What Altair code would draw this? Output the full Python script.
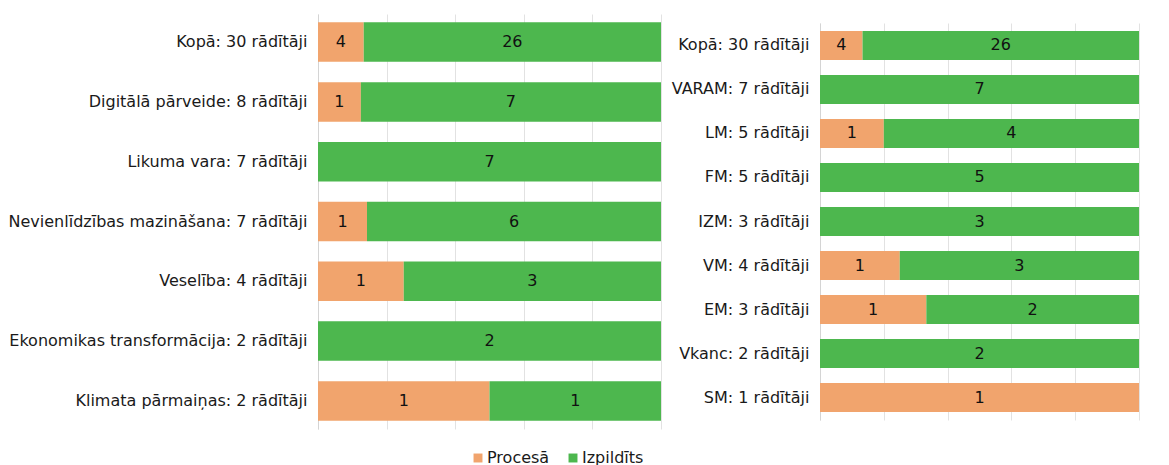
import altair as alt
import pandas as pd

left_cats = ["Kopā: 30 rādītāji", "Digitālā pārveide: 8 rādītāji", "Likuma vara: 7 rādītāji",
             "Nevienlīdzības mazināšana: 7 rādītāji", "Veselība: 4 rādītāji",
             "Ekonomikas transformācija: 2 rādītāji", "Klimata pārmaiņas: 2 rādītāji"]
left_proc = [4, 1, 0, 1, 1, 0, 1]
left_izp = [26, 7, 7, 6, 3, 2, 1]

right_cats = ["Kopā: 30 rādītāji", "VARAM: 7 rādītāji", "LM: 5 rādītāji", "FM: 5 rādītāji",
              "IZM: 3 rādītāji", "VM: 4 rādītāji", "EM: 3 rādītāji", "Vkanc: 2 rādītāji",
              "SM: 1 rādītāji"]
right_proc = [4, 0, 1, 0, 0, 1, 1, 0, 1]
right_izp = [26, 7, 4, 5, 3, 3, 2, 2, 0]

statuses = ["Procesā", "Izpildīts"]
colors = ["#F1A46D", "#4DB74E"]
FONT = "DejaVu Sans"


def table(cats, proc, izp):
    rows = []
    for c, p, z in zip(cats, proc, izp):
        rows.append({"cat": c, "status": statuses[0], "value": p, "order": 0})
        rows.append({"cat": c, "status": statuses[1], "value": z, "order": 1})
    return pd.DataFrame(rows)


def panel(cats, proc, izp, width, height, pi, po, legend):
    df = table(cats, proc, izp)
    base = alt.Chart(df)
    y = alt.Y("cat:N", sort=cats,
              scale=alt.Scale(paddingInner=pi, paddingOuter=po),
              axis=alt.Axis(title=None, labelFont=FONT, labelFontSize=16, labelColor="#1a1a1a",
                            ticks=False, domainColor="#d4d4d4", labelPadding=11, labelLimit=500))
    bars = base.mark_bar().encode(
        y=y,
        x=alt.X("value:Q", stack="normalize", scale=alt.Scale(domain=[0, 1], nice=False),
                axis=alt.Axis(title=None, labels=False, ticks=False, domain=False, grid=True,
                              gridColor="#e2e2e2", values=[0, 0.2, 0.4, 0.6, 0.8, 1.0])),
        color=alt.Color("status:N", sort=statuses,
                        scale=alt.Scale(domain=statuses, range=colors), legend=legend),
        order=alt.Order("order:Q"),
    )
    text = base.transform_filter("datum.value > 0").transform_stack(
        stack="value", groupby=["cat"], as_=["s0", "s1"], offset="normalize",
        sort=[alt.SortField("order")]
    ).transform_calculate(mid="(datum.s0 + datum.s1) / 2").mark_text(
        font=FONT, fontSize=16, color="#111111"
    ).encode(y=alt.Y("cat:N", sort=cats), x=alt.X("mid:Q"), text="value:Q")
    return alt.layer(bars, text).properties(width=width, height=height)


legend = alt.Legend(title=None, orient="none", direction="horizontal", legendX=152, legendY=436,
                    labelFont=FONT, labelFontSize=16, labelColor="#1a1a1a", symbolType="square",
                    symbolSize=80, symbolStrokeWidth=0, columnPadding=15, labelOffset=1)

left = panel(left_cats, left_proc, left_izp, 343, 415, 0.34, 0.14, legend)
right_panel = panel(right_cats, right_proc, right_izp, 319, 397, 0.34, 0.18, None)

spacer = alt.Chart(pd.DataFrame({"a": [0]})).mark_point(opacity=0).encode(
    x=alt.X("a:Q", axis=None), y=alt.Y("a:Q", axis=None)
).properties(width=10, height=9)

right = alt.vconcat(spacer, right_panel, spacing=0)

chart = alt.hconcat(left, right, spacing=10).properties(
    padding={"left": 0, "top": 6, "right": 5, "bottom": 12}
).configure_view(stroke=None)

chart.save("out.html", embed_options={"renderer": "svg", "actions": False})
